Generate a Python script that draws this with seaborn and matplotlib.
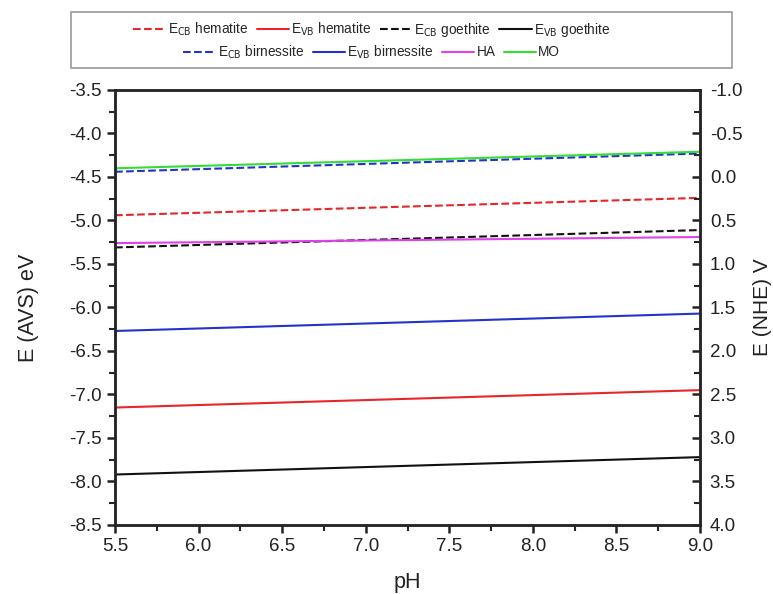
import matplotlib
matplotlib.use('Agg')

import matplotlib.pyplot as plt
import pandas as pd
import seaborn as sns
from matplotlib.patches import Rectangle
from matplotlib.ticker import MultipleLocator, FormatStrFormatter

# pH end points and band edge energies (E vs AVS, eV)
ph = [5.5, 9.0]
ecb_hematite = [-4.94, -4.74]
evb_hematite = [-7.15, -6.95]
ecb_goethite = [-5.31, -5.11]
evb_goethite = [-7.92, -7.72]
ecb_birnessite = [-4.44, -4.23]
evb_birnessite = [-6.27, -6.07]
ha = [-5.26, -5.19]
mo = [-4.40, -4.21]

labels = [r'E$_{\mathrm{CB}}$ hematite', r'E$_{\mathrm{VB}}$ hematite',
          r'E$_{\mathrm{CB}}$ goethite', r'E$_{\mathrm{VB}}$ goethite',
          r'E$_{\mathrm{CB}}$ birnessite', r'E$_{\mathrm{VB}}$ birnessite',
          'HA', 'MO']
series = [ecb_hematite, evb_hematite, ecb_goethite, evb_goethite,
          ecb_birnessite, evb_birnessite, ha, mo]
colors = ['#e8262a', '#e8262a', '#111111', '#111111',
          '#2233cc', '#2233cc', '#e040e8', '#33dd33']
styles = ['--', '-', '--', '-', '--', '-', '-', '-']

sns.set_style('ticks')
plt.rcParams['font.family'] = ['Liberation Sans', 'DejaVu Sans']
plt.rcParams['mathtext.default'] = 'regular'

df = pd.DataFrame({'pH': ph * len(series),
                   'E': [v for s in series for v in s],
                   'name': [lab for lab in labels for _ in ph]})

fig = plt.figure(figsize=(7.73, 5.94), dpi=100)
ax = fig.add_axes([0.1488, 0.1162, 0.7568, 0.7323])

for lab, col, ls in zip(labels, colors, styles):
    sub = df[df['name'] == lab]
    sns.lineplot(data=sub, x='pH', y='E', ax=ax, color=col, linestyle=ls,
                 linewidth=1.5, label=lab)

ax.set_xlim(5.5, 9.0)
ax.set_ylim(-8.5, -3.5)
ax.xaxis.set_major_locator(MultipleLocator(0.5))
ax.xaxis.set_minor_locator(MultipleLocator(0.25))
ax.yaxis.set_major_locator(MultipleLocator(0.5))
ax.yaxis.set_minor_locator(MultipleLocator(0.25))
ax.xaxis.set_major_formatter(FormatStrFormatter('%.1f'))
ax.yaxis.set_major_formatter(FormatStrFormatter('%.1f'))
ax.tick_params(which='major', direction='out', length=6, width=1.8, labelsize=13.5,
               top=False, right=False, colors='#222222')
ax.tick_params(which='minor', direction='out', length=4, width=1.5, top=False, right=False)
for sp in ax.spines.values():
    sp.set_linewidth(1.8)
ax.set_xlabel('pH', fontsize=15.5, labelpad=12, color='#222222')
ax.set_ylabel('E (AVS) eV', fontsize=15.5, labelpad=22, color='#222222')

# right axis: E vs NHE
ax2 = ax.twinx()
ax2.set_ylim(4.0, -1.0)
ax2.yaxis.set_major_locator(MultipleLocator(0.5))
ax2.yaxis.set_minor_locator(MultipleLocator(0.25))
ax2.yaxis.set_major_formatter(FormatStrFormatter('%.1f'))
ax2.tick_params(which='major', direction='in', length=6, width=1.8, labelsize=13.5,
                pad=7, colors='#222222')
ax2.tick_params(which='minor', direction='in', length=4, width=1.5)
for sp in ax2.spines.values():
    sp.set_linewidth(1.8)
ax2.set_ylabel('E (NHE) V', fontsize=15, labelpad=8, color='#222222')

# legend: two centred rows inside one grey box, as in the original
handles, labs = ax.get_legend_handles_labels()
ax.legend_.remove()
leg_kw = dict(ncol=4, loc='center', fontsize=9.8, frameon=False, handlelength=2.4,
              handletextpad=0.15, columnspacing=0.6, borderpad=0.0)
leg1 = fig.legend(handles[:4], labs[:4], bbox_to_anchor=(0.481, 1 - 30 / 594), **leg_kw)
leg2 = fig.legend(handles[4:], labs[4:], bbox_to_anchor=(0.481, 1 - 52 / 594), **leg_kw)
fig.add_artist(Rectangle((71 / 773, 1 - 68 / 594), 661 / 773, 56 / 594,
                         transform=fig.transFigure, fill=False,
                         edgecolor='#999999', linewidth=1.2))

fig.savefig('out.png', dpi=100)
